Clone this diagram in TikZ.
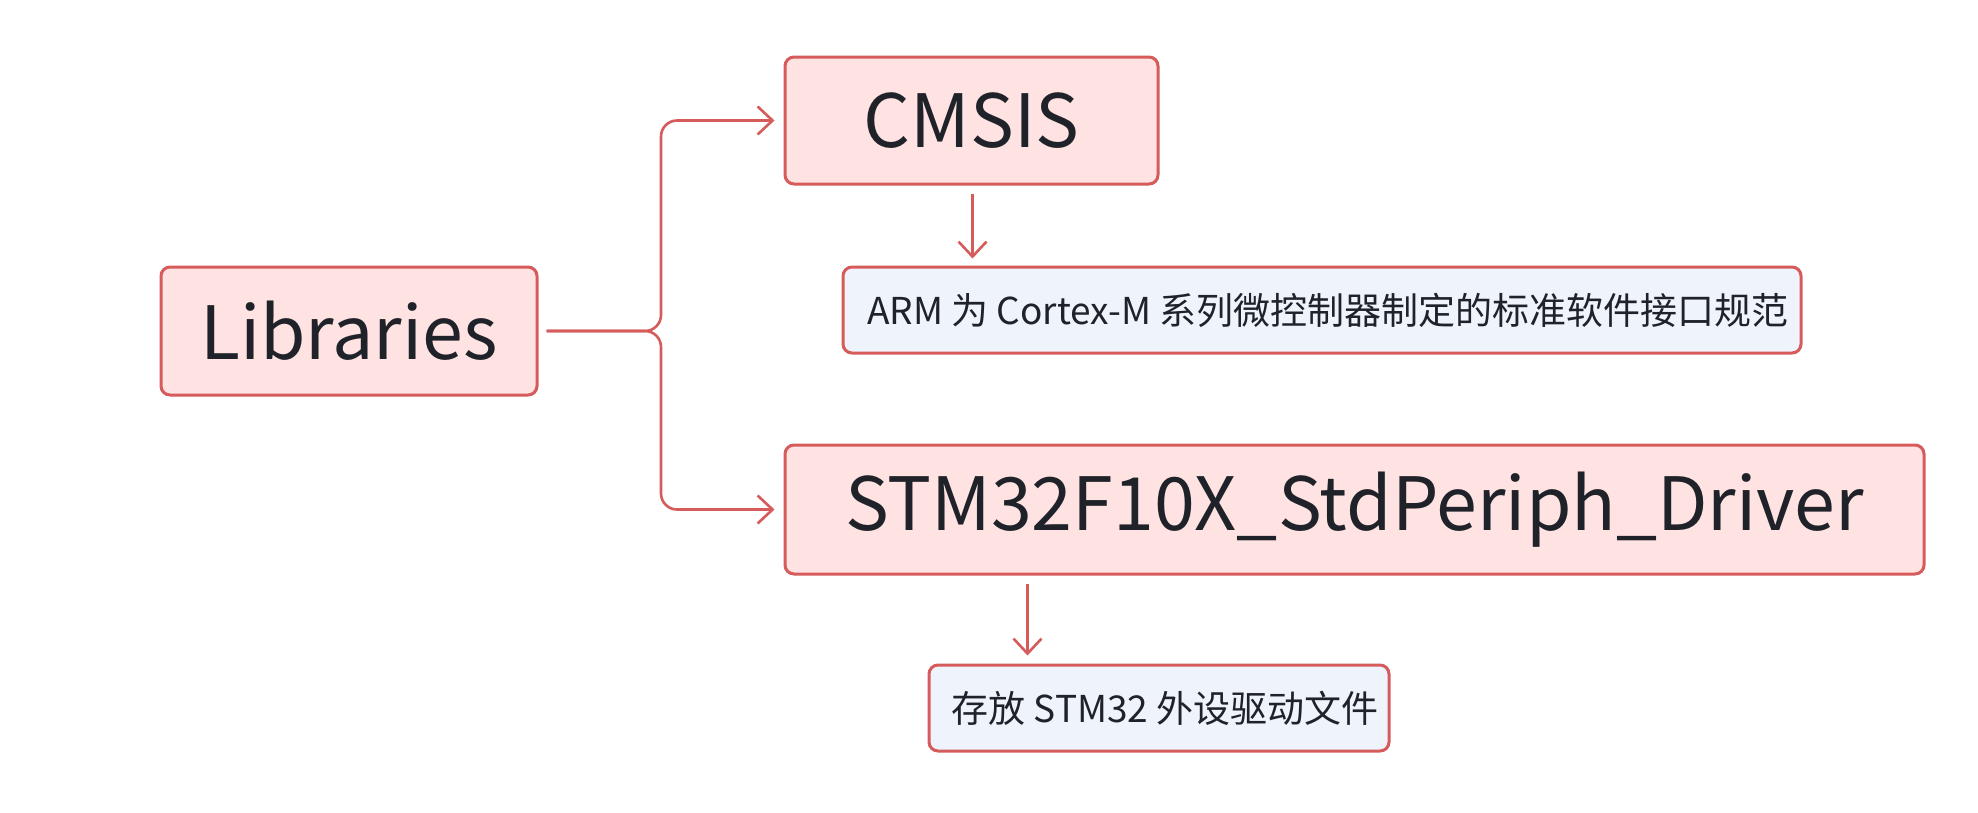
\documentclass[tikz,border=0pt]{standalone}
\usepackage{fontspec}
\setmainfont{Noto Sans CJK SC}
\usetikzlibrary{arrows.meta,calc}
\definecolor{bord}{HTML}{D65B5B}
\definecolor{pinkf}{HTML}{FFE2E2}
\definecolor{bluef}{HTML}{EFF3FC}
\definecolor{txt}{HTML}{1F2329}
\begin{document}
\begin{tikzpicture}[x=1pt,y=-1pt,
  mainbox/.style={draw=bord,fill=pinkf,line width=3pt,rounded corners=9pt,inner sep=0pt,
    text=txt,font=\fontsize{73.5}{88}\selectfont},
  descbox/.style={draw=bord,fill=bluef,line width=3pt,rounded corners=9pt,inner sep=0pt,
    text=txt,font=\fontsize{37}{44}\selectfont},
  conn/.style={draw=bord,line width=2.6pt,-{Straight Barb[length=15pt,width=28pt,line width=2.6pt]}}]
\useasboundingbox (0,0) rectangle (1978,812);
\fill[white] (0,0) rectangle (1978,812);
\node[mainbox,minimum width=376pt,minimum height=128pt] (lib) at (349,331) {Libraries};
\node[mainbox,minimum width=373pt,minimum height=127pt] (cmsis) at (971.5,120.5) {CMSIS};
\node[descbox,minimum width=958pt,minimum height=86pt] (arm) at (1322,310) {\hspace*{12pt}ARM 为 Cortex-M 系列微控制器制定的标准软件接口规范};
\node[mainbox,minimum width=1139pt,minimum height=129pt] (stm) at (1354.5,509.5) {STM32F10X\_StdPeriph\_Driver};
\node[descbox,minimum width=460pt,minimum height=86pt] (cun) at (1159,708) {\hspace*{12pt}存放 STM32 外设驱动文件};
\coordinate (jx) at (661,331);
\draw[conn,rounded corners=16pt] ($(lib.east)+(8,0)$) -- (lib.east -| jx) -- (jx |- cmsis.west) -- ($(cmsis.west)+(-9,0)$);
\draw[conn,rounded corners=16pt] ($(lib.east)+(8,0)$) -- (lib.east -| jx) -- (jx |- stm.west) -- ($(stm.west)+(-9,0)$);
\draw[conn] ($(cmsis.south)+(1,8)$) -- ($(cmsis.south |- arm.north)+(1,-7)$);
\coordinate (sx) at ($(stm.south west)+(244,0)$);
\draw[conn] ($(sx)+(0,8)$) -- ($(sx |- cun.north)+(0,-8)$);
\end{tikzpicture}
\end{document}
